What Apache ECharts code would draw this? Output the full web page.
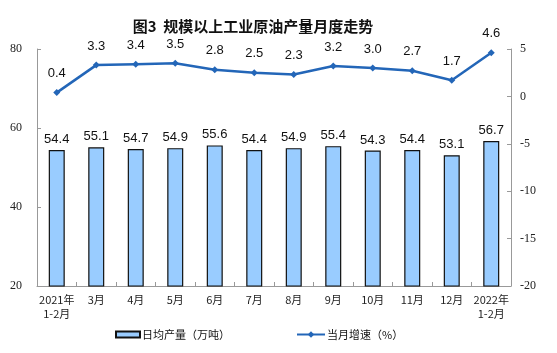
<!DOCTYPE html>
<html><head><meta charset="utf-8">
<script src="https://cdn.jsdelivr.net/npm/echarts@6/dist/echarts.min.js"></script>
<style>html,body{margin:0;padding:0;background:#fff}#c{width:557px;height:353px}</style>
</head><body><div id="c"></div>
<script>
const categories = ["2021年\n1-2月","3月","4月","5月","6月","7月","8月","9月","10月","11月","12月","2022年\n1-2月"];
const dailyOutput = [54.4,55.1,54.7,54.9,55.6,54.4,54.9,55.4,54.3,54.4,53.1,56.7];
const growth = [0.4,3.3,3.4,3.5,2.8,2.5,2.3,3.2,3.0,2.7,1.7,4.6];
const title = "图3  规模以上工业原油产量月度走势";
const barName = "日均产量（万吨）";
const lineName = "当月增速（%）";

const cjk = '"Noto Sans CJK SC", sans-serif';
const serif = '"Liberation Serif", "DejaVu Serif", serif';
const sans = '"Liberation Sans", Arial, sans-serif';
const fmt = p => Number(p.value).toFixed(1);
const chart = echarts.init(document.getElementById('c'), null, {renderer:'canvas'});
chart.setOption({
  animation:false,
  backgroundColor:'#fff',
  title:{text:title,left:248,top:14,textAlign:'center',textStyle:{fontFamily:cjk,fontSize:15,fontWeight:'bold',color:'#111'}},
  grid:{left:37,right:46,top:49,bottom:67,containLabel:false},
  legend:[
    {data:[{name:barName,icon:'rect'}],left:110,top:324,itemWidth:24,itemHeight:6,itemGap:5,textStyle:{fontFamily:cjk,fontSize:11,color:'#111',padding:[0,0,0,-3]}},
    {data:[{name:lineName}],left:291,top:324,itemWidth:28,itemHeight:8,textStyle:{fontFamily:cjk,fontSize:11,color:'#111',padding:[0,0,0,-3]}}
  ],
  xAxis:{type:'category',data:categories,
    axisLine:{onZero:false,lineStyle:{color:'#999'}},
    axisTick:{show:true,inside:true,length:4,alignWithLabel:false,lineStyle:{color:'#999'}},
    axisLabel:{fontFamily:cjk,fontSize:11,color:'#222',margin:7,lineHeight:14,interval:0}},
  yAxis:[
    {type:'value',min:20,max:80,interval:20,
     axisLine:{show:true,lineStyle:{color:'#999'}},
     axisTick:{show:true,inside:true,length:4,lineStyle:{color:'#999'}},
     splitLine:{show:false},
     axisLabel:{fontFamily:serif,fontSize:12,color:'#222',margin:15}},
    {type:'value',min:-20,max:5,interval:5,position:'right',
     axisLine:{show:true,lineStyle:{color:'#999'}},
     axisTick:{show:true,inside:true,length:4,lineStyle:{color:'#999'}},
     splitLine:{show:false},
     axisLabel:{fontFamily:serif,fontSize:12,color:'#222',margin:9}}
  ],
  series:[
    {name:barName,type:'bar',data:dailyOutput,barWidth:16,yAxisIndex:0,
     itemStyle:{color:'#99CCFF',borderColor:'#111',borderWidth:1.2},
     label:{show:true,position:'top',distance:4,formatter:fmt,fontFamily:sans,fontSize:13,color:'#111'}},
    {name:lineName,type:'line',data:growth,yAxisIndex:1,
     symbol:'diamond',symbolSize:7,
     lineStyle:{color:'#2366B8',width:2.5},
     itemStyle:{color:'#2366B8'},
     label:{show:true,position:'top',distance:9,formatter:fmt,fontFamily:sans,fontSize:13,color:'#111'}}
  ]
});
</script></body></html>
